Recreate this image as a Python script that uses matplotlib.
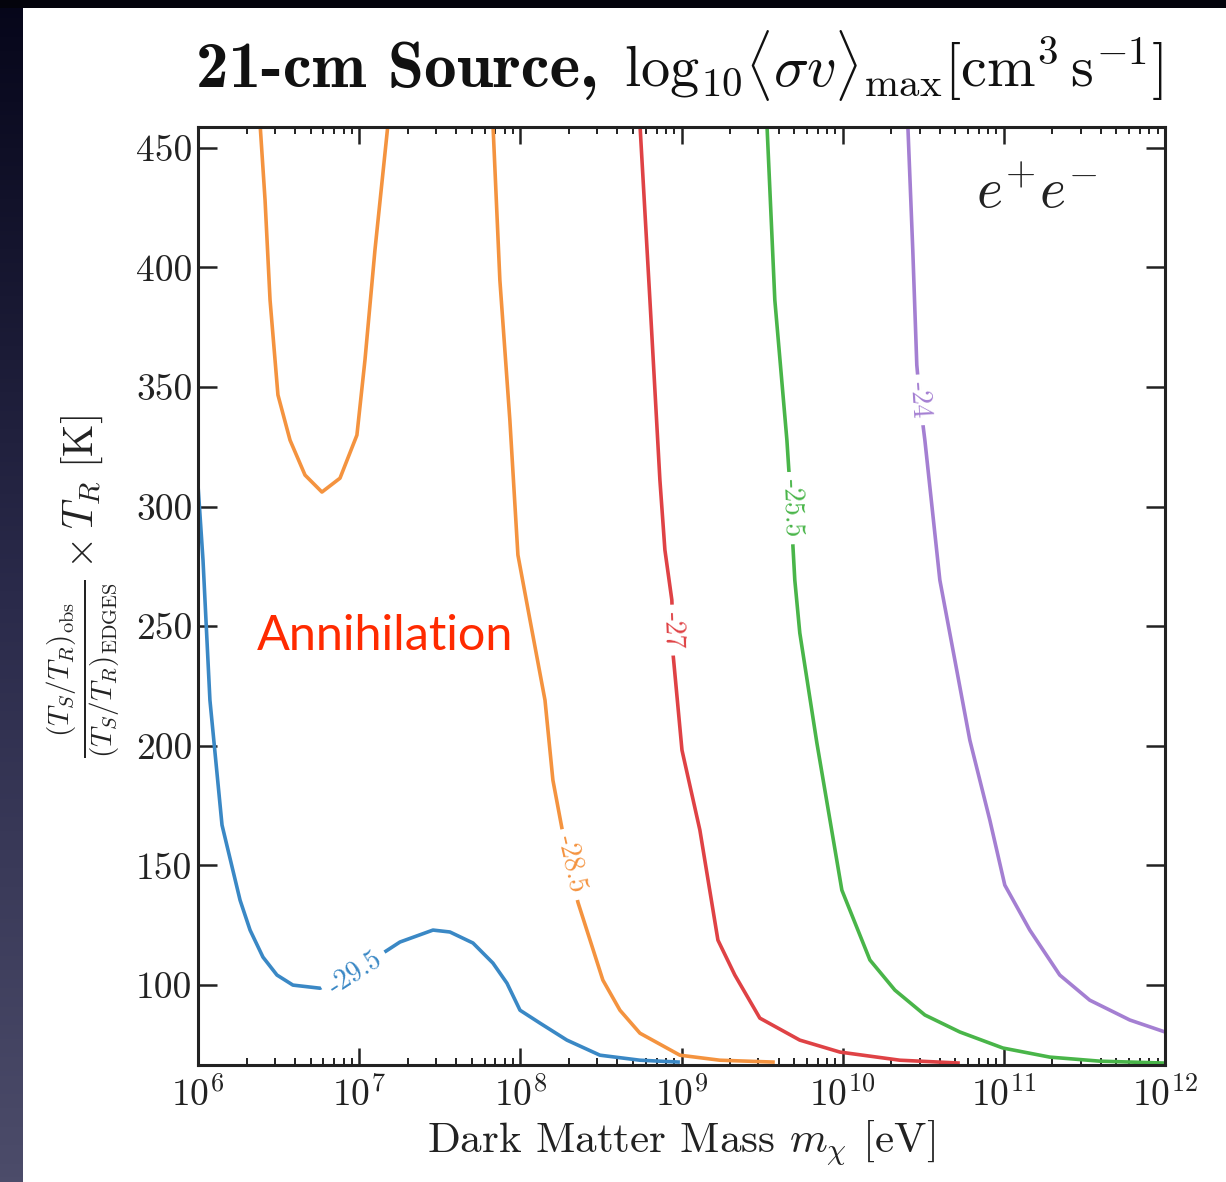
import numpy as np
import matplotlib
matplotlib.use("Agg")
import matplotlib.pyplot as plt
from matplotlib.colors import LinearSegmentedColormap
from matplotlib.patches import Rectangle
from matplotlib.ticker import LogLocator, LogFormatterMathtext, NullFormatter

plt.rcParams['mathtext.fontset'] = 'cm'
plt.rcParams['font.family'] = ['cmr10', 'DejaVu Serif']
plt.rcParams['axes.unicode_minus'] = False
plt.rcParams['axes.formatter.use_mathtext'] = True

# ---- data: contours of log10 <sigma v>_max (log10 m [eV], y [K]) ----
levels = ["-29.5", "-28.5", "-28.5", "-27", "-25.5", "-24"]
colors = ["#3a88c5", "#f4933f", "#f4933f", "#df4245", "#49b549", "#a47fd2"]

blue_logm = [6.0, 6.031, 6.074, 6.149, 6.261, 6.323, 6.403, 6.490, 6.589, 6.757, 6.943,
             7.148, 7.253, 7.458, 7.563, 7.706, 7.830, 7.917, 7.998, 8.122, 8.289, 8.494,
             8.742, 8.990]
blue_T = [309.0, 277.7, 219.1, 166.9, 135.5, 123.0, 111.7, 104.2, 100.0, 98.7, 104.2,
          113.4, 118.0, 123.0, 122.2, 117.6, 109.2, 100.8, 89.5, 84.1, 77.0, 70.7,
          68.6, 67.8]

orangeA_logm = [6.385, 6.416, 6.447, 6.496, 6.571, 6.664, 6.769, 6.881, 6.986, 7.036, 7.098, 7.179]
orangeA_T = [460.0, 428.2, 386.4, 346.7, 327.8, 313.2, 306.1, 311.9, 329.9, 361.3, 407.3, 460.0]

orangeB_logm = [7.830, 7.873, 7.935, 7.985, 8.060, 8.153, 8.202, 8.258, 8.357, 8.512,
                8.618, 8.742, 8.990, 9.238, 9.579]
orangeB_T = [460.0, 394.7, 336.2, 279.8, 252.6, 219.1, 185.7, 165.6, 134.7, 102.1,
             89.5, 79.9, 70.7, 68.6, 67.8]

red_logm = [8.742, 8.804, 8.866, 8.897, 8.940, 8.947, 8.947, 9.003, 9.114, 9.226, 9.331,
            9.486, 9.734, 9.983, 10.355, 10.727]
red_T = [460.0, 386.4, 311.1, 281.9, 261.0, 248.4, 238.8, 198.2, 164.8, 118.8, 104.2,
         86.2, 77.0, 72.0, 68.6, 67.4]

green_logm = [9.530, 9.579, 9.654, 9.666, 9.691, 9.691, 9.703, 9.734, 9.840, 9.995,
              10.169, 10.324, 10.510, 10.727, 10.994, 11.285, 11.596, 12.0]
green_T = [460.0, 386.4, 327.8, 315.3, 299.4, 283.9, 269.3, 247.2, 201.2, 139.7,
           110.5, 97.9, 87.5, 80.4, 73.7, 69.9, 68.2, 67.4]

purple_logm = [10.404, 10.435, 10.460, 10.479, 10.510, 10.603, 10.696, 10.789, 10.913,
               11.006, 11.161, 11.347, 11.533, 11.782, 12.0]
purple_T = [460.0, 407.3, 359.2, 344.6, 327.8, 269.3, 235.9, 202.4, 169.0,
            141.8, 123.0, 104.2, 93.7, 85.4, 80.4]

curves = [(blue_logm, blue_T), (orangeA_logm, orangeA_T), (orangeB_logm, orangeB_T),
          (red_logm, red_T), (green_logm, green_T), (purple_logm, purple_T)]

# contour label placements (log10 m, y, rotation); None = no label
label_pos = [(6.974, 105.0, 33), None, (8.322, 150.6, -77),
             (8.947, 248.4, -88), (9.689, 299.4, -88), (10.475, 344.6, -86)]

y_ticks = [100, 150, 200, 250, 300, 350, 400, 450]
xlim = (1e6, 1e12)
ylim = (66.6, 458.7)

# ---- figure ----
W, H = 1226, 1182
fig = plt.figure(figsize=(W / 100, H / 100), dpi=100)

bg = fig.add_axes([0, 0, 1, 1], zorder=-10)
bg.axis('off')
grad = np.linspace(0, 1, 256).reshape(-1, 1)
cmap = LinearSegmentedColormap.from_list('bg', ['#4c4c6a', '#2a2a4a', '#06061a'])
bg.imshow(grad, aspect='auto', cmap=cmap, extent=[0, 1, 0, 1], origin='lower')
bg.add_patch(Rectangle((0, 1 - 8 / H), 1, 8 / H, facecolor='#04040c', edgecolor='none',
                       transform=bg.transAxes))
bg.add_patch(Rectangle((23 / W, 0), 1 - 23 / W, 1 - 8 / H, facecolor='white', edgecolor='none',
                       transform=bg.transAxes))
bg.set_xlim(0, 1)
bg.set_ylim(0, 1)

L, R, T, B = 198, 1165, 127, 1065
ax = fig.add_axes([L / W, 1 - B / H, (R - L) / W, (B - T) / H])
ax.set_facecolor('none')

for (lm, tv), c in zip(curves, colors):
    ax.plot(10 ** np.array(lm), tv, color=c, lw=2.6, solid_capstyle='butt', clip_on=True)

for pos, lev, c in zip(label_pos, levels, colors):
    if pos is None:
        continue
    lx, ty, rot = pos
    ax.text(10 ** lx, ty, lev, color=c, fontsize=20, rotation=rot, rotation_mode='anchor',
            ha='center', va='center', family='cmr10',
            bbox=dict(facecolor='white', edgecolor='none', pad=5))

ax.set_xscale('log')
ax.set_xlim(*xlim)
ax.set_ylim(*ylim)
ax.xaxis.set_major_locator(LogLocator(base=10, numticks=20))
ax.xaxis.set_minor_locator(LogLocator(base=10, subs=np.arange(2, 10), numticks=20))
ax.xaxis.set_major_formatter(LogFormatterMathtext())
ax.xaxis.set_minor_formatter(NullFormatter())
ax.set_yticks(y_ticks)
ax.set_yticklabels([str(v) for v in y_ticks])

ax.tick_params(which='both', direction='in', top=True, right=True, colors='#222222',
               labelcolor='#222222')
ax.tick_params(axis='y', which='major', length=14, width=1.8, labelsize=27, pad=4)
ax.tick_params(axis='x', which='major', length=12, width=1.8, labelsize=27, pad=8)
ax.tick_params(axis='x', which='minor', length=5, width=1.4)
for s in ax.spines.values():
    s.set_linewidth(2.2)
    s.set_color('#222222')

ax.set_xlabel(r'Dark Matter Mass $m_\chi$ [eV]', fontsize=31, color='#222222', labelpad=4)
ax.set_ylabel(r'$\frac{(T_S/T_R)_{\rm obs}}{(T_S/T_R)_{\rm EDGES}}\times T_R\ [\mathrm{K}]$',
              fontsize=30, color='#222222')
ax.yaxis.set_label_coords(-0.079, 0.51)

ax.text(0.805, 0.957, r'$e^{+}e^{-}$', transform=ax.transAxes, fontsize=40,
        color='#222222', ha='left', va='top')
ax.text(0.061, 0.4424, 'Annihilation', transform=ax.transAxes, fontsize=35,
        color='#ff2a00', family='Lato', ha='left', va='baseline')

# title in two pieces
t1 = fig.text(196 / W, 1 - 87 / H, '21-cm Source,', family='cmb10', fontsize=47,
              color='#111111', ha='left', va='baseline')
fig.canvas.draw()
bb = t1.get_window_extent()
fig.text((bb.x1 + 26) / W, 1 - 87 / H,
         r'${\rm log}_{10}\langle\sigma v\rangle_{\rm max}[{\rm cm}^3\,{\rm s}^{-1}]$',
         fontsize=42, color='#111111', ha='left', va='baseline')

fig.savefig('out.png', dpi=100)
